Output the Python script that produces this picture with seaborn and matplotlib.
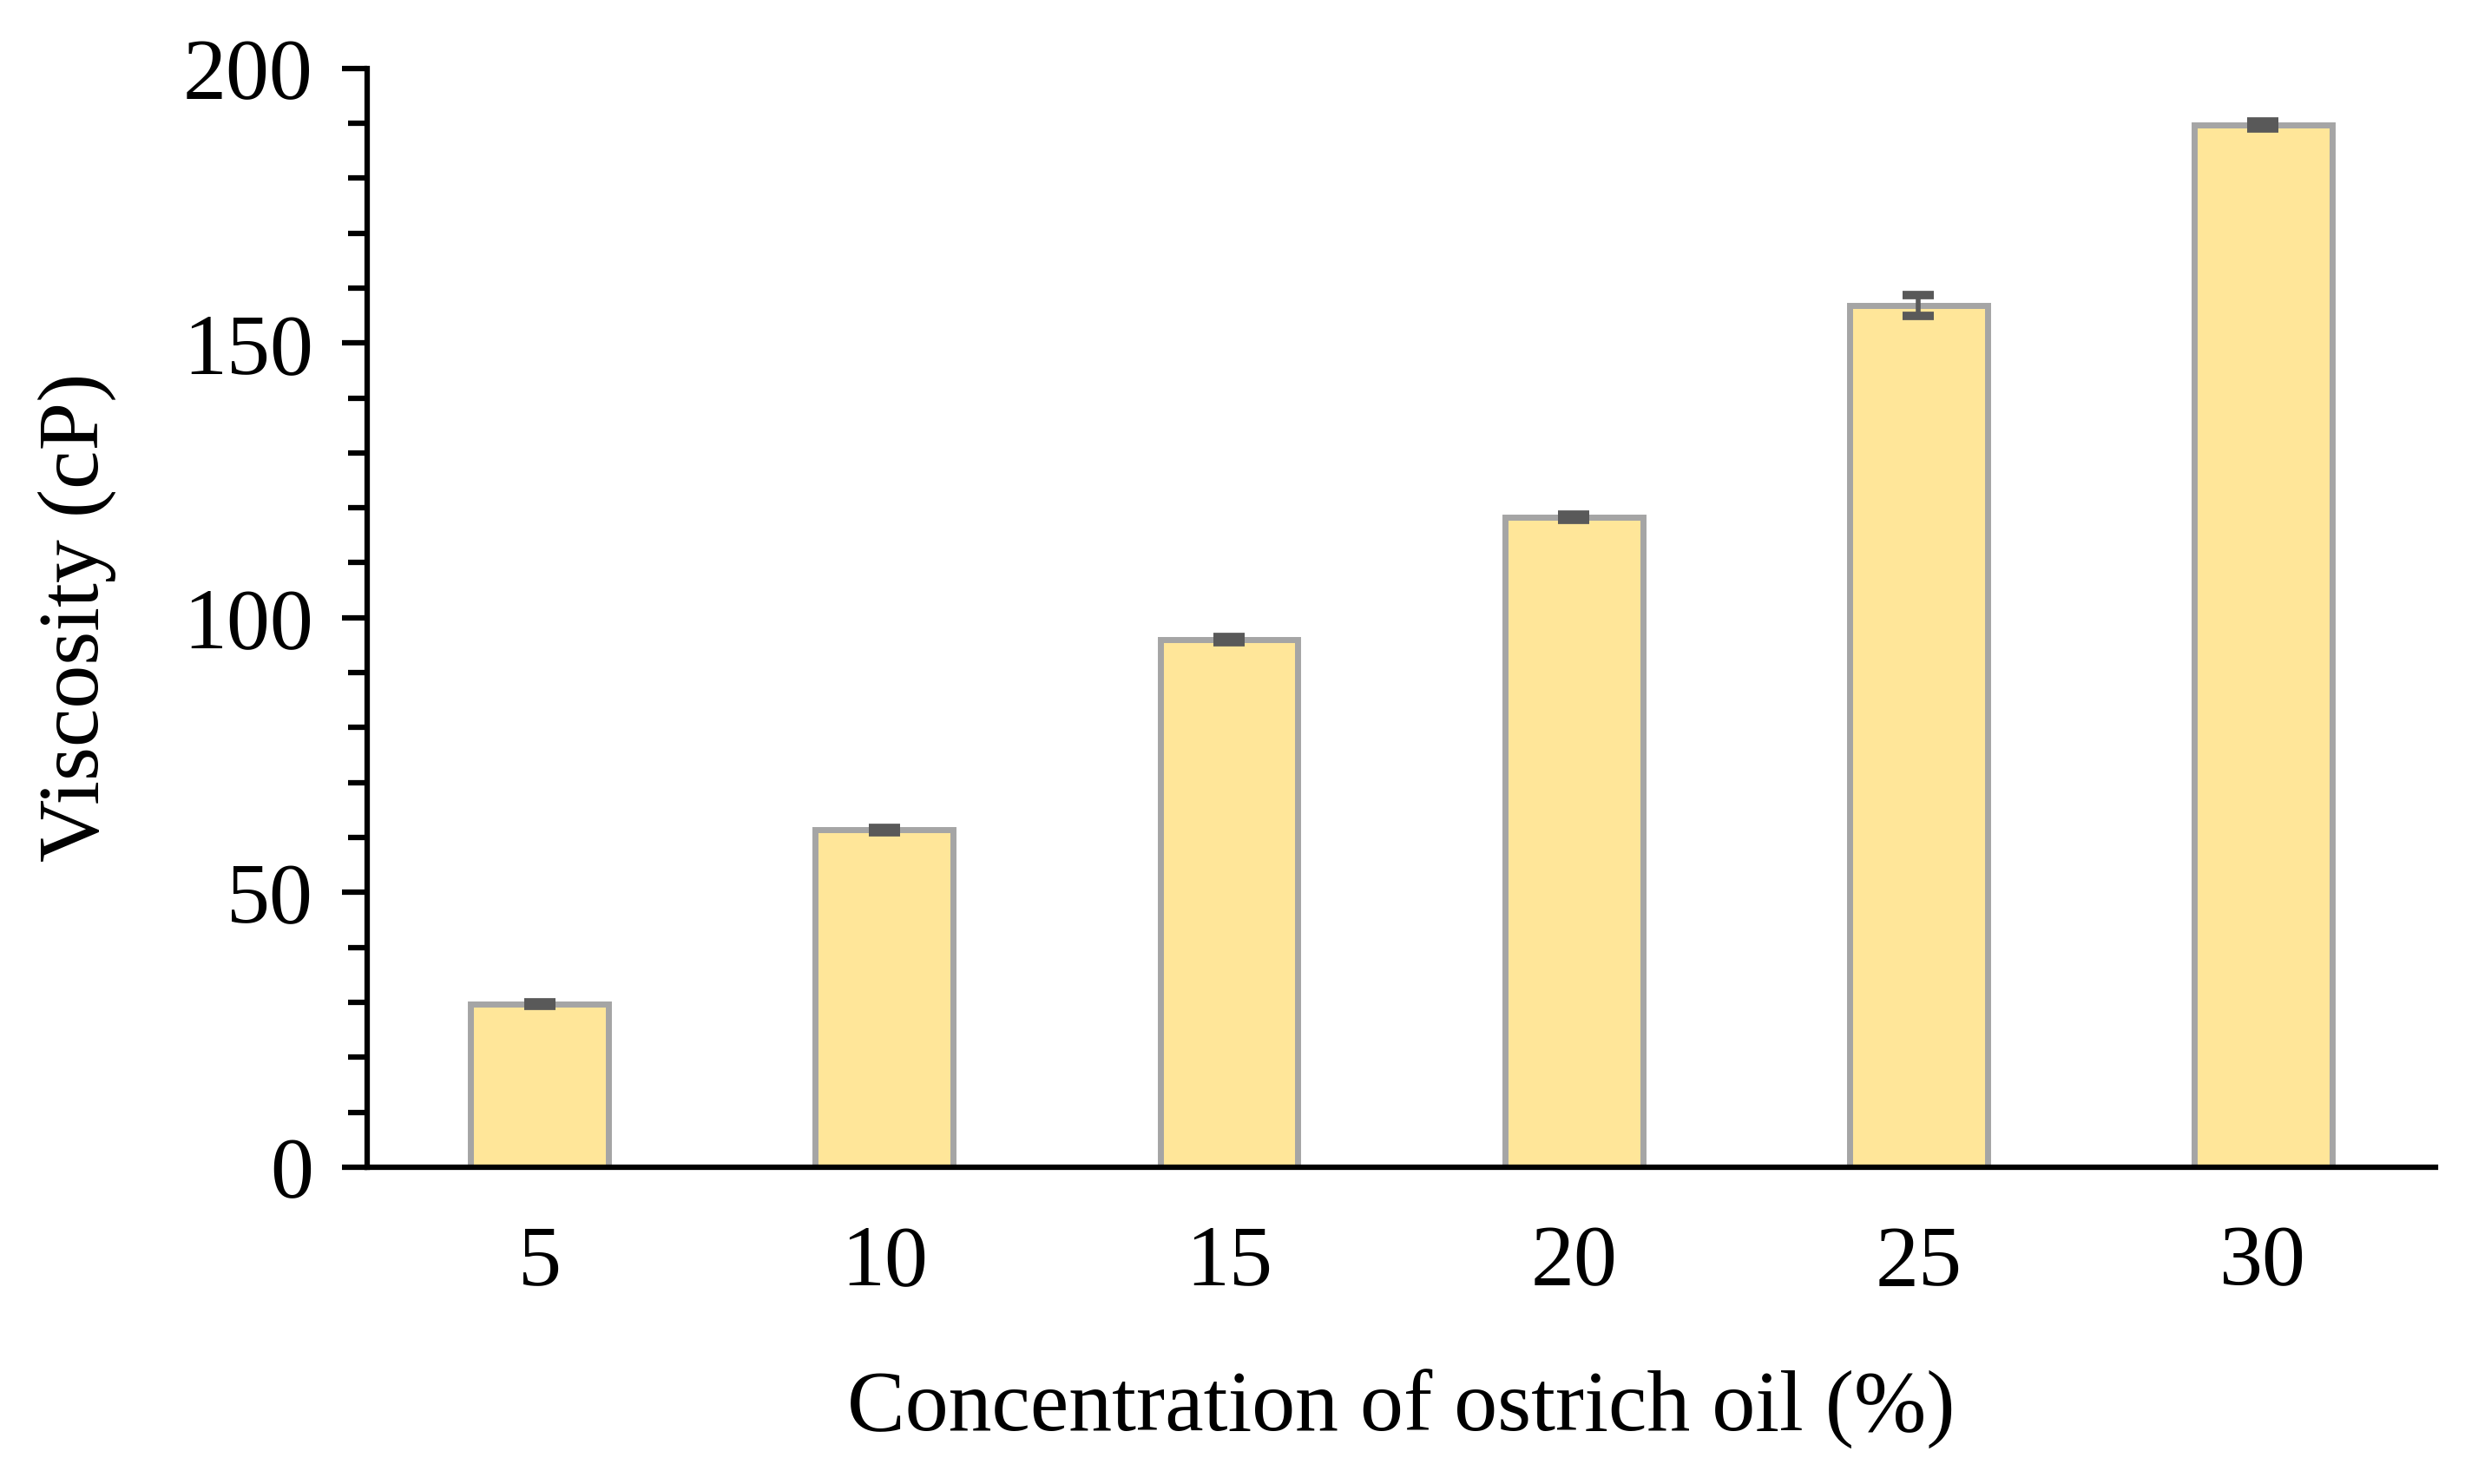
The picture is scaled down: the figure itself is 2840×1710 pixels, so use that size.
import numpy as np
import pandas as pd
import matplotlib
matplotlib.use("Agg")
import matplotlib.pyplot as plt
from matplotlib.ticker import MultipleLocator
import seaborn as sns

# data
concentration = ["5", "10", "15", "20", "25", "30"]
viscosity = [29.7, 61.4, 96.0, 118.3, 156.9, 189.7]
viscosity_sd = [0.3, 0.4, 0.5, 0.5, 1.9, 0.6]

df = pd.DataFrame({"conc": concentration, "visc": viscosity})

sns.set_style("ticks")
plt.rcParams["font.family"] = ["Liberation Serif", "DejaVu Serif"]
plt.rcParams["text.color"] = "black"
plt.rcParams["axes.labelcolor"] = "black"
plt.rcParams["xtick.color"] = "black"
plt.rcParams["ytick.color"] = "black"

fig = plt.figure(figsize=(28.4, 17.1), dpi=100)
ax = fig.add_axes([0.149, 0.2135, 0.839, 0.7405])

sns.barplot(data=df, x="conc", y="visc", color="#FFE699", edgecolor="#A5A5A5",
            linewidth=5, width=0.40, errorbar=None, saturation=1, ax=ax)

# error bars
ax.errorbar(np.arange(len(concentration)), viscosity, yerr=viscosity_sd,
            fmt="none", ecolor="#595959", elinewidth=4, capsize=13, capthick=7,
            zorder=5)

ax.set_ylim(0, 200)
ax.set_xlim(-0.5, len(concentration) - 0.5)
ax.yaxis.set_major_locator(MultipleLocator(50))
ax.yaxis.set_minor_locator(MultipleLocator(10))

ax.tick_params(axis="y", which="major", length=21, width=4.5, labelsize=72, pad=24)
ax.tick_params(axis="y", which="minor", length=16, width=4.5)
ax.tick_params(axis="x", length=0, labelsize=72, pad=48)

for s in ["top", "right"]:
    ax.spines[s].set_visible(False)
for s in ["left", "bottom"]:
    ax.spines[s].set_linewidth(4.5)
    ax.spines[s].set_color("black")

ax.set_xlabel("Concentration of ostrich oil (%)", fontsize=72, labelpad=55)
ax.set_ylabel("Viscosity (cP)", fontsize=72, labelpad=55)

fig.savefig("out.png", dpi=100)
